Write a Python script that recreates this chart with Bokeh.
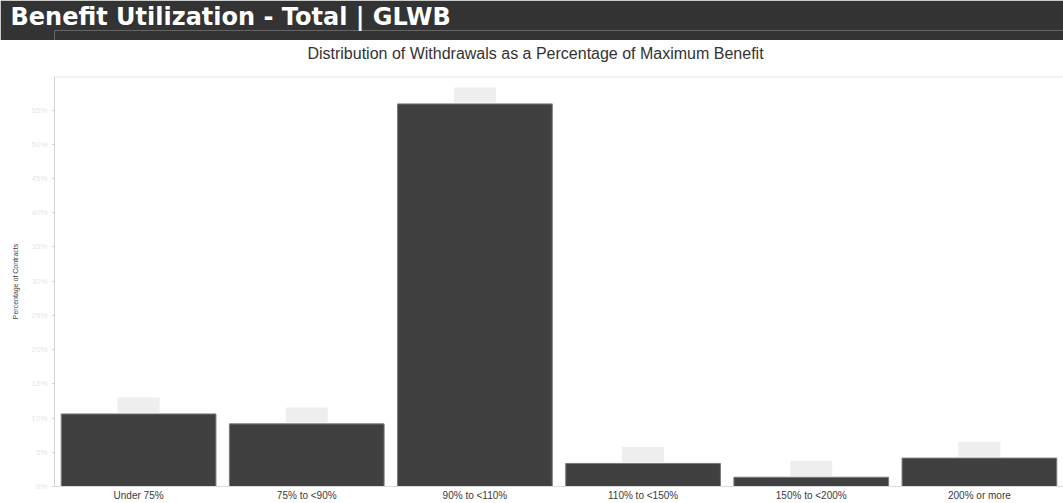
from bokeh.plotting import figure
from bokeh.models import Range1d, FactorRange, Label, Span, FixedTicker, PrintfTickFormatter
from bokeh.layouts import column
from bokeh.embed import file_html
from bokeh.resources import INLINE

# ---- data ----
categories = ["Under 75%", "75% to <90%", "90% to <110%", "110% to <150%", "150% to <200%", "200% or more"]
pct_contracts = [10.6, 9.15, 55.9, 3.37, 1.35, 4.15]
y_ticks = [0, 5, 10, 15, 20, 25, 30, 35, 40, 45, 50, 55]
header_text = "Benefit Utilization - Total | GLWB"
subtitle_text = "Distribution of Withdrawals as a Percentage of Maximum Benefit"
y_label = "Percentage of Contracts"

FONT = "Liberation Sans"
W = 1063
LEFT = 54
Y_MAX = 59.9


def bare(fig, color):
    fig.axis.visible = False
    fig.grid.visible = False
    fig.outline_line_color = None
    fig.background_fill_color = color
    fig.border_fill_color = color


# ---- header band ----
header = figure(width=W, height=40, x_range=Range1d(0, 1), y_range=Range1d(0, 1),
                toolbar_location=None, output_backend="svg",
                min_border_left=LEFT, min_border_right=0, min_border_top=0, min_border_bottom=0)
bare(header, "#333333")
header.title.text = header_text
header.title.align = "left"
header.title.offset = 10 - LEFT
header.title.standoff = 0
header.title.text_color = "white"
header.title.text_font = "DejaVu Sans"
header.title.text_font_size = "24px"
header.title.text_font_style = "bold"

# ---- subtitle strip ----
sub = figure(width=W, height=26, x_range=Range1d(0, 1), y_range=Range1d(0, 1),
             toolbar_location=None, output_backend="svg",
             min_border_left=LEFT, min_border_right=0, min_border_top=0, min_border_bottom=0)
bare(sub, "white")
sub.add_layout(Label(x=535 - LEFT, y=13, x_units="screen", y_units="screen", text=subtitle_text,
                     text_align="center", text_baseline="middle", text_color="#333333",
                     text_font=FONT, text_font_size="16px"))

# ---- main chart ----
p = figure(width=W, height=437, x_range=FactorRange(*categories), y_range=Range1d(0, Y_MAX),
           toolbar_location=None, output_backend="svg",
           min_border_left=LEFT, min_border_right=0, min_border_top=10, min_border_bottom=12)
p.outline_line_color = None
p.grid.visible = False
p.background_fill_color = "white"

p.vbar(x=categories, top=pct_contracts, width=0.92, fill_color="#404040", line_color="#7a7a7a", line_width=1)

# redacted value-label boxes above each bar
box_bottom = [v + 0.2 for v in pct_contracts]
box_top = [v + 2.4 for v in pct_contracts]
p.vbar(x=categories, bottom=box_bottom, top=box_top, width=0.25, fill_color="#eeeeee", line_color=None)

p.add_layout(Span(location=Y_MAX, dimension="width", line_color="#e4e4e4", line_width=2))

ya = p.yaxis[0]
ya.ticker = FixedTicker(ticks=y_ticks)
ya.formatter = PrintfTickFormatter(format="%d%%")
ya.axis_line_color = "#d4d4d4"
ya.major_tick_line_color = "#c8c8c8"
ya.major_tick_out = 2
ya.major_tick_in = 0
ya.minor_tick_line_color = None
ya.major_label_text_color = "#e6e6e6"
ya.major_label_text_font_size = "8px"
ya.major_label_text_font = FONT
ya.major_label_standoff = 5
ya.axis_label = y_label
ya.axis_label_text_font = FONT
ya.axis_label_text_font_size = "7px"
ya.axis_label_text_font_style = "normal"
ya.axis_label_text_color = "#444444"
ya.axis_label_standoff = 9

xa = p.xaxis[0]
xa.axis_line_color = "#dddddd"
xa.major_tick_line_color = None
xa.major_tick_out = 0
xa.major_tick_in = 0
xa.minor_tick_line_color = None
xa.minor_tick_out = 0
xa.major_label_text_font = FONT
xa.major_label_text_font_size = "10px"
xa.major_label_text_color = "#3a3a3a"
xa.major_label_standoff = 3

layout = column(header, sub, p, spacing=0)
open("out.html", "w").write(file_html(layout, INLINE))
